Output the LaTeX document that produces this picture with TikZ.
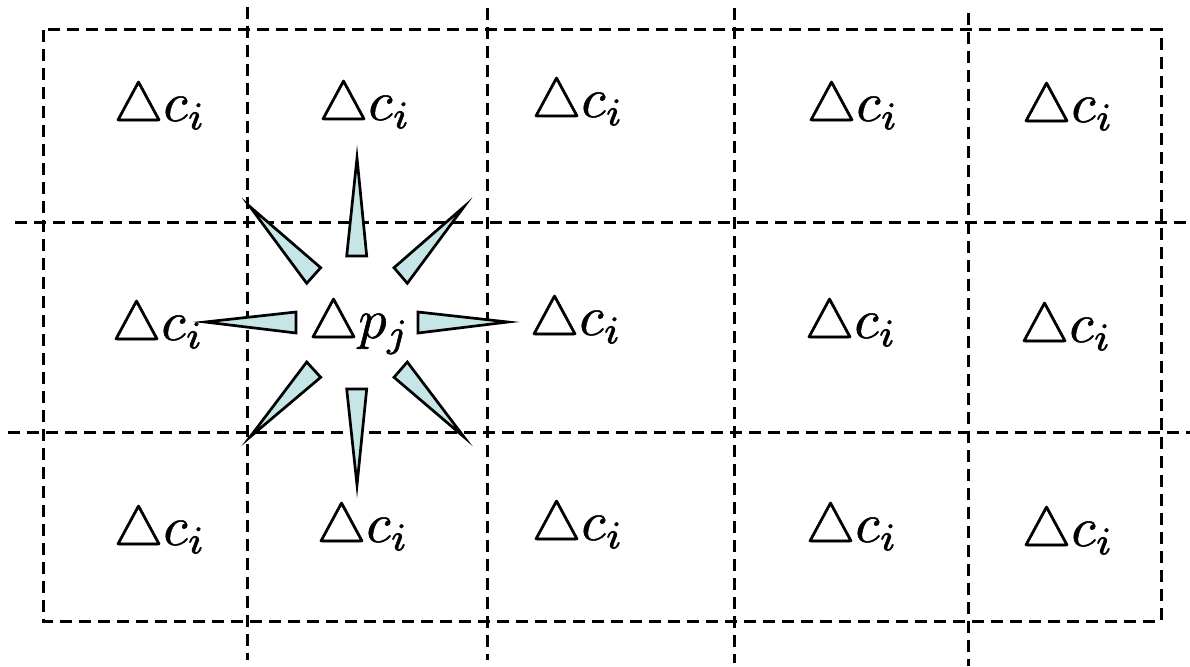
\documentclass[tikz,border=0pt]{standalone}
\definecolor{wedgefill}{RGB}{197,229,231}
\newcommand{\heavytext}[1]{\special{pdf:literal direct 2 Tr 0.09 w}#1\special{pdf:literal direct 0 Tr}}
\begin{document}
\begin{tikzpicture}[x=1pt,y=-1pt,
  gridline/.style={line width=3pt, dash pattern=on 12pt off 7pt},
  lab/.style={anchor=base west, inner sep=0pt, scale=5.6, xshift=-0.8pt},
  wedge/.style={fill=wedgefill, draw=black, line width=2.7pt, line join=miter}]
\useasboundingbox (0,0) rectangle (1190,666);
% outer frame
\draw[gridline] (43,30) rectangle (1161,621);
% vertical lines
\draw[gridline] (247,7) -- (247,660);
\draw[gridline] (487,8) -- (487,660);
\draw[gridline] (734,8) -- (734,663);
\draw[gridline] (968,13) -- (968,666);
% horizontal lines
\draw[gridline] (15,222) -- (1190,222);
\draw[gridline] (8,432) -- (1190,432);
% labels row 1
\node[lab] (c11) at (117,121) {\heavytext{$\triangle c_i$}};
\node[lab] (c12) at (322,120) {\heavytext{$\triangle c_i$}};
\node[lab] (c13) at (535,117) {\heavytext{$\triangle c_i$}};
\node[lab] (c14) at (810,121) {\heavytext{$\triangle c_i$}};
\node[lab] (c15) at (1025,122) {\heavytext{$\triangle c_i$}};
% row 2
\node[lab] (c21) at (115,340) {\heavytext{$\triangle c_i$}};
\node[lab] (pj) at (312,338) {\heavytext{$\triangle p_j$}};
\node[lab] (c23) at (533,335) {\heavytext{$\triangle c_i$}};
\node[lab] (c24) at (808,338) {\heavytext{$\triangle c_i$}};
\node[lab] (c25) at (1023,342) {\heavytext{$\triangle c_i$}};
% row 3
\node[lab] (c31) at (117,545) {\heavytext{$\triangle c_i$}};
\node[lab] (c32) at (320,542) {\heavytext{$\triangle c_i$}};
\node[lab] (c33) at (535,540) {\heavytext{$\triangle c_i$}};
\node[lab] (c34) at (809,542) {\heavytext{$\triangle c_i$}};
\node[lab] (c35) at (1025,546) {\heavytext{$\triangle c_i$}};
% wedges around Delta p_j
\draw[wedge] (346.7,256) -- (366.7,256) -- (357,158) -- cycle;
\draw[wedge] (346.7,389) -- (366.7,389) -- (357,485) -- cycle;
\draw[wedge] (296,312) -- (296,333) -- (205,322) -- cycle;
\draw[wedge] (418,312) -- (418,333) -- (508,322) -- cycle;
\draw[wedge] (306.7,283.3) -- (320.7,267.7) -- (250,206.7) -- cycle;
\draw[wedge] (394,267.7) -- (407.3,283.3) -- (464,206.7) -- cycle;
\draw[wedge] (306.7,362) -- (320.7,377.3) -- (250,437) -- cycle;
\draw[wedge] (394,377.3) -- (407.3,362) -- (464,437) -- cycle;
\end{tikzpicture}
\end{document}
